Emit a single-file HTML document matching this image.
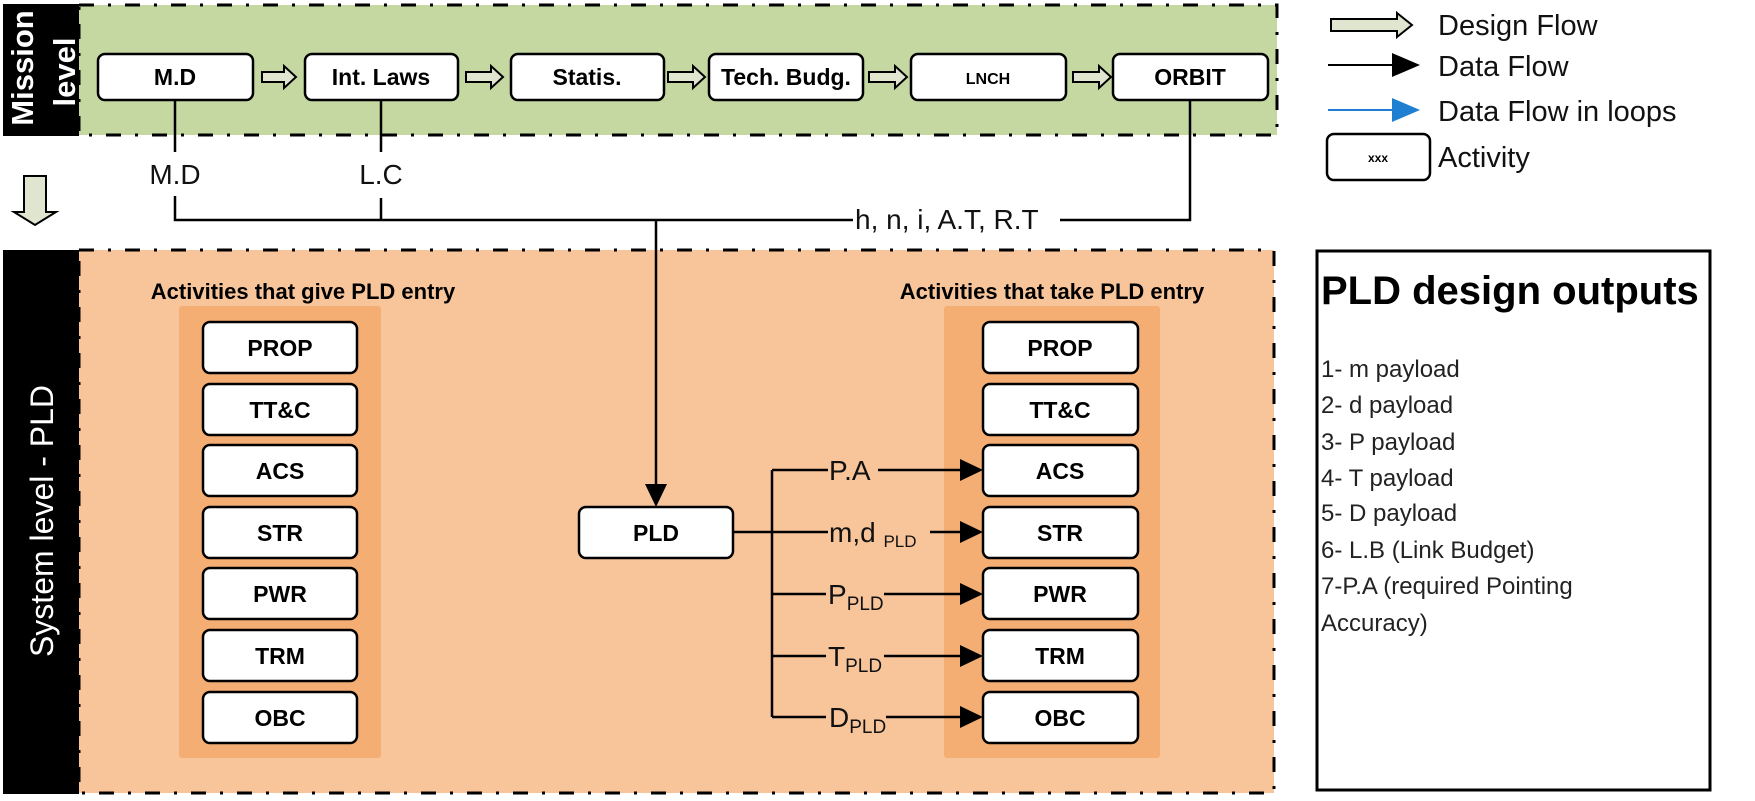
<!DOCTYPE html>
<html><head><meta charset="utf-8"><style>
html,body{margin:0;padding:0;background:#fff;}
svg{display:block;}
text{font-family:"Liberation Sans",sans-serif;}
.bx{fill:#fff;stroke:#000;stroke-width:2.5;}
.bl{font-weight:bold;font-size:23px;text-anchor:middle;}
.ln{stroke:#000;stroke-width:2.5;fill:none;}
.lab{font-size:28px;fill:#111;}
</style></head><body>
<svg width="1755" height="801" viewBox="0 0 1755 801" xmlns="http://www.w3.org/2000/svg">
<rect x="79" y="5" width="1198" height="130" fill="#c5d8a2" stroke="#000" stroke-width="3" stroke-dasharray="15 14 3 14"/>
<rect x="3" y="4" width="76" height="132" fill="#000"/>
<text transform="translate(33,68) rotate(-90)" fill="#fff" font-weight="bold" font-size="31" text-anchor="middle">Mission</text>
<text transform="translate(75,72) rotate(-90)" fill="#fff" font-weight="bold" font-size="31" text-anchor="middle">level</text>

<g>
<rect class="bx" x="98" y="54" width="155" height="46" rx="7"/><text class="bl" x="175" y="85">M.D</text>
<rect class="bx" x="305" y="54" width="153" height="46" rx="7"/><text class="bl" x="381" y="85">Int. Laws</text>
<rect class="bx" x="511" y="54" width="153" height="46" rx="7"/><text class="bl" x="587" y="85">Statis.</text>
<rect class="bx" x="709" y="54" width="154" height="46" rx="7"/><text class="bl" x="786" y="85">Tech. Budg.</text>
<rect class="bx" x="911" y="54" width="155" height="46" rx="7"/><text class="bl" x="988" y="84" style="font-size:16px">LNCH</text>
<rect class="bx" x="1113" y="54" width="155" height="46" rx="7"/><text class="bl" x="1190" y="85">ORBIT</text>
</g>
<g fill="#dfe5cf" stroke="#000" stroke-width="2">
<path d="M262,72 h22 v-6 l12,11 l-12,11 v-6 h-22 z"/>
<path d="M466,72 h25 v-6 l12,11 l-12,11 v-6 h-25 z"/>
<path d="M668,72 h25 v-6 l12,11 l-12,11 v-6 h-25 z"/>
<path d="M869,72 h26 v-6 l12,11 l-12,11 v-6 h-26 z"/>
<path d="M1073,72 h26 v-6 l12,11 l-12,11 v-6 h-26 z"/>
<path d="M24,176 h22 v36 h10 l-21,13 l-21,-13 h10 z"/>
</g>

<path class="ln" d="M175,100 V152 M175,196 V220 H853 M1060,220 H1190 V100 M381,100 V152 M381,198 V220"/>
<text class="lab" x="175" y="184" text-anchor="middle">M.D</text>
<text class="lab" x="381" y="184" text-anchor="middle">L.C</text>
<text class="lab" x="855" y="229">h, n, i, A.T, R.T</text>

<rect x="79" y="250" width="1195" height="543" fill="#f8c59b" stroke="#000" stroke-width="3" stroke-dasharray="15 14 3 14"/>
<rect x="3" y="250" width="76" height="544" fill="#000"/>
<text transform="translate(53,521) rotate(-90)" fill="#fff" font-size="32" text-anchor="middle">System level - PLD</text>

<text x="303" y="299" font-weight="bold" font-size="22" text-anchor="middle">Activities that give PLD entry</text>
<text x="1052" y="299" font-weight="bold" font-size="22" text-anchor="middle">Activities that take PLD entry</text>

<rect x="179" y="306" width="202" height="452" fill="#f4ad72" rx="3"/>
<rect x="944" y="306" width="216" height="452" fill="#f4ad72" rx="3"/>

<g>
<rect class="bx" x="203" y="322" width="154" height="51" rx="7"/><text class="bl" x="280" y="356">PROP</text>
<rect class="bx" x="203" y="384" width="154" height="51" rx="7"/><text class="bl" x="280" y="418">TT&amp;C</text>
<rect class="bx" x="203" y="445" width="154" height="51" rx="7"/><text class="bl" x="280" y="479">ACS</text>
<rect class="bx" x="203" y="507" width="154" height="51" rx="7"/><text class="bl" x="280" y="541">STR</text>
<rect class="bx" x="203" y="568" width="154" height="51" rx="7"/><text class="bl" x="280" y="602">PWR</text>
<rect class="bx" x="203" y="630" width="154" height="51" rx="7"/><text class="bl" x="280" y="664">TRM</text>
<rect class="bx" x="203" y="692" width="154" height="51" rx="7"/><text class="bl" x="280" y="726">OBC</text>

<rect class="bx" x="983" y="322" width="155" height="51" rx="7"/><text class="bl" x="1060" y="356">PROP</text>
<rect class="bx" x="983" y="384" width="155" height="51" rx="7"/><text class="bl" x="1060" y="418">TT&amp;C</text>
<rect class="bx" x="983" y="445" width="155" height="51" rx="7"/><text class="bl" x="1060" y="479">ACS</text>
<rect class="bx" x="983" y="507" width="155" height="51" rx="7"/><text class="bl" x="1060" y="541">STR</text>
<rect class="bx" x="983" y="568" width="155" height="51" rx="7"/><text class="bl" x="1060" y="602">PWR</text>
<rect class="bx" x="983" y="630" width="155" height="51" rx="7"/><text class="bl" x="1060" y="664">TRM</text>
<rect class="bx" x="983" y="692" width="155" height="51" rx="7"/><text class="bl" x="1060" y="726">OBC</text>

<rect class="bx" x="579" y="507" width="154" height="51" rx="7"/><text class="bl" x="656" y="541">PLD</text>
</g>

<path class="ln" d="M656,220 V484"/>
<path d="M645,484 L667,484 L656,507 z" fill="#000"/>

<path class="ln" d="M733,532 H828 M772,470 V717 M772,470 H828 M772,594 H826 M772,656 H826 M772,717 H826"/>
<path class="ln" d="M878,470 H962 M930,532 H962 M884,594 H962 M884,656 H962 M886,717 H962"/>
<g fill="#000">
<path d="M960,459 L983,470 L960,481 z"/>
<path d="M960,521 L983,532 L960,543 z"/>
<path d="M960,583 L983,594 L960,605 z"/>
<path d="M960,645 L983,656 L960,667 z"/>
<path d="M960,706 L983,717 L960,728 z"/>
</g>
<text class="lab" x="829" y="480">P.A</text>
<text class="lab" x="829" y="542">m,d <tspan font-size="17" dy="5">PLD</tspan></text>
<text class="lab" x="828" y="604">P<tspan font-size="19" dy="6">PLD</tspan></text>
<text class="lab" x="828" y="666">T<tspan font-size="19" dy="6">PLD</tspan></text>
<text class="lab" x="829" y="727">D<tspan font-size="19" dy="6">PLD</tspan></text>

<path d="M1331,19 h66 v-6 l15,12 l-15,12 v-6 h-66 z" fill="#dfe5cf" stroke="#000" stroke-width="2"/>
<path d="M1328,65 H1395" stroke="#000" stroke-width="2"/>
<path d="M1392,53 L1420,65 L1392,77 z" fill="#000"/>
<path d="M1328,110 H1395" stroke="#1f7fd0" stroke-width="2"/>
<path d="M1392,98 L1420,110 L1392,122 z" fill="#1f7fd0"/>
<rect x="1327" y="134" width="103" height="46" rx="7" fill="#fff" stroke="#000" stroke-width="2.5"/>
<text x="1378" y="162" font-size="12" font-weight="bold" text-anchor="middle">xxx</text>
<text x="1438" y="35" font-size="29" fill="#111">Design Flow</text>
<text x="1438" y="76" font-size="29" fill="#111">Data Flow</text>
<text x="1438" y="121" font-size="29" fill="#111">Data Flow in loops</text>
<text x="1438" y="167" font-size="29" fill="#111">Activity</text>

<rect x="1317" y="251" width="393" height="539" fill="#fff" stroke="#000" stroke-width="3"/>
<text x="1321" y="304" font-size="40" font-weight="bold">PLD design outputs</text>
<g font-size="24" fill="#222">
<text x="1321" y="377">1- m payload</text>
<text x="1321" y="413">2- d payload</text>
<text x="1321" y="450">3- P payload</text>
<text x="1321" y="486">4- T payload</text>
<text x="1321" y="521">5- D payload</text>
<text x="1321" y="558">6- L.B (Link Budget)</text>
<text x="1321" y="594">7-P.A (required Pointing</text>
<text x="1321" y="631">Accuracy)</text>
</g>
</svg>
</body></html>
